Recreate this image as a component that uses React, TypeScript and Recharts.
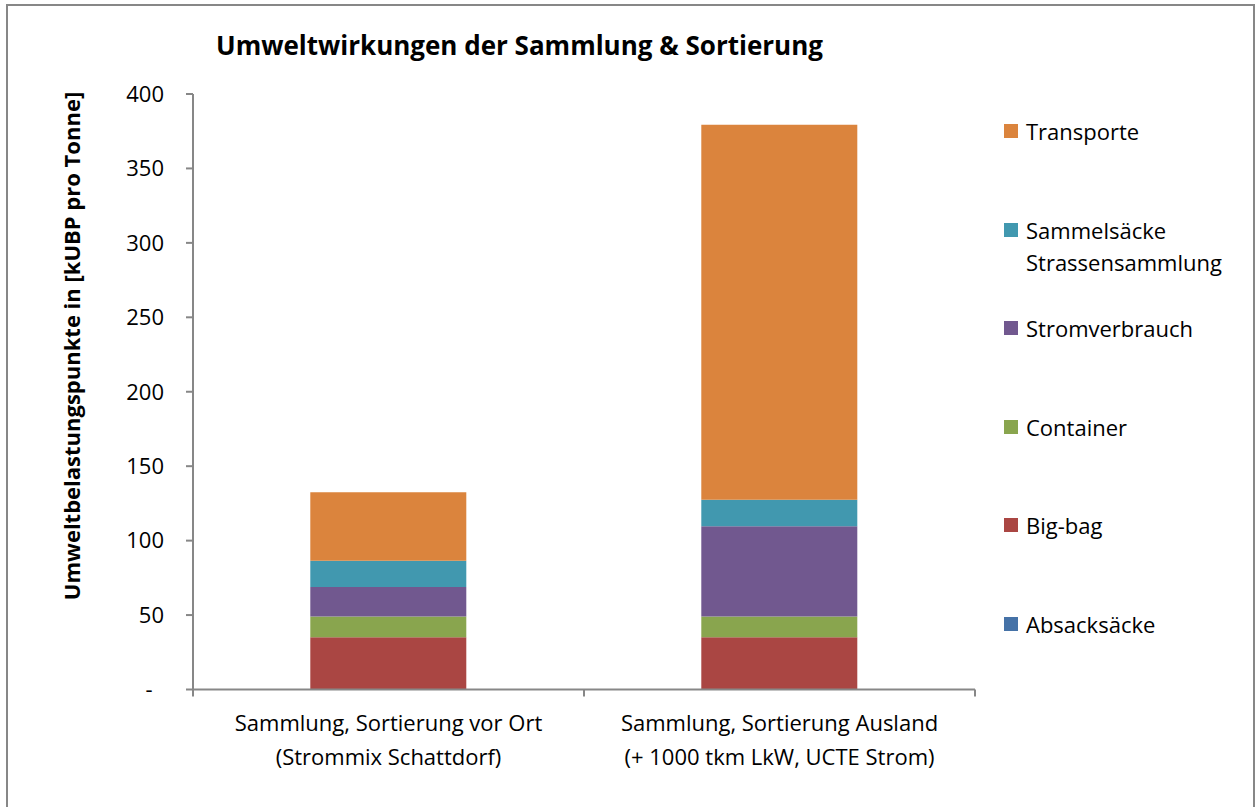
import { BarChart, Bar, XAxis, YAxis, Legend } from "recharts";

const categories = [
  "Sammlung, Sortierung vor Ort\n(Strommix Schattdorf)",
  "Sammlung, Sortierung Ausland\n(+ 1000 tkm LkW, UCTE Strom)",
];
const absacksaecke = [0.3, 0.3];
const bigBag = [34.8, 34.8];
const container = [13.9, 13.9];
const stromverbrauch = [19.9, 60.6];
const sammelsaecke = [17.5, 17.9];
const transporte = [46.1, 251.8];
const yTicks = [0, 50, 100, 150, 200, 250, 300, 350, 400];

const SERIES = [
  { key: "abs", name: "Absacksäcke", color: "#4572A7" },
  { key: "big", name: "Big-bag", color: "#AA4643" },
  { key: "cont", name: "Container", color: "#89A54E" },
  { key: "strom", name: "Stromverbrauch", color: "#71588F" },
  { key: "samm", name: "Sammelsäcke Strassensammlung", color: "#4198AF" },
  { key: "trans", name: "Transporte", color: "#DB843D" },
];

const data = categories.map((c, i) => ({
  cat: c,
  abs: absacksaecke[i],
  big: bigBag[i],
  cont: container[i],
  strom: stromverbrauch[i],
  samm: sammelsaecke[i],
  trans: transporte[i],
}));

const AXIS = "#878787";
const FONT = "'Open Sans', Lato, sans-serif";
const FS = 22;

const CatTick = (p: any) => {
  const { x, y, payload, index, width, visibleTicksCount } = p;
  const band = width / visibleTicksCount;
  const lines = String(payload.value).split("\n");
  return (
    <g>
      <line x1={x - band / 2} x2={x - band / 2} y1={y} y2={y + 7} stroke={AXIS} strokeWidth={2} />
      {index === visibleTicksCount - 1 && (
        <line x1={x + band / 2} x2={x + band / 2} y1={y} y2={y + 7} stroke={AXIS} strokeWidth={2} />
      )}
      {lines.map((l, i) => (
        <text key={i} x={x} y={y + 41 + i * 34} textAnchor="middle" fontSize={FS} fill="#000">
          {l}
        </text>
      ))}
    </g>
  );
};

const order = (name: string) => SERIES.findIndex((s) => s.name === name);

const LegendList = (props: any) => {
  const items = [...(props.payload || [])].sort((a: any, b: any) => order(b.value) - order(a.value));
  return (
    <div style={{ position: "relative", width: 245 }}>
      {items.map((it: any, i: number) => (
        <div
          key={it.value}
          style={{ position: "absolute", top: i * 98.6, left: 0, display: "flex", alignItems: "flex-start", fontSize: FS, lineHeight: "32px", color: "#000" }}
        >
          <div style={{ width: 14, height: 14, background: it.color, marginTop: 9, marginRight: 8, flex: "none" }} />
          <div style={{ width: 220 }}>{it.value}</div>
        </div>
      ))}
    </div>
  );
};

export default function App() {
  return (
    <div style={{ position: "absolute", left: 0, top: 0, width: 1255, height: 807, overflow: "hidden", background: "#fff", fontFamily: FONT }}>
      <div style={{ position: "absolute", left: 6, top: 4, width: 1249, height: 820, border: `2px solid ${AXIS}`, boxSizing: "border-box" }} />
      <div style={{ position: "absolute", left: 216, top: 27, fontSize: 26, lineHeight: "36px", fontWeight: 700, color: "#000", whiteSpace: "nowrap" }}>
        Umweltwirkungen der Sammlung &amp; Sortierung
      </div>
      <div style={{ position: "absolute", left: 0, top: 0 }}>
        <BarChart
          width={1255}
          height={807}
          data={data}
          margin={{ top: 94, right: 280, bottom: 17.5, left: 43 }}
          barCategoryGap="30%"
        >
          <XAxis
            dataKey="cat"
            interval={0}
            height={100}
            tickSize={0}
            tickMargin={0}
            tickLine={false}
            axisLine={{ stroke: AXIS, strokeWidth: 2 }}
            tick={<CatTick />}
          />
          <YAxis
            width={150}
            domain={[0, 400]}
            ticks={yTicks}
            tickSize={7}
            tickMargin={22}
            axisLine={{ stroke: AXIS, strokeWidth: 2 }}
            tickLine={{ stroke: AXIS, strokeWidth: 2 }}
            tick={{ fontSize: FS, fill: "#000" }}
            tickFormatter={(v: number) => (v === 0 ? "-\u00a0\u00a0" : String(v))}
            label={{
              content: () => (
                <text x={80} y={346} transform="rotate(-90 80 346)" textAnchor="middle" fontSize={22} fontWeight={700} fill="#000">
                  Umweltbelastungspunkte in [kUBP pro Tonne]
                </text>
              ),
            }}
          />
          <Legend
            layout="vertical"
            align="center"
            verticalAlign="middle"
            content={<LegendList />}
            wrapperStyle={{ left: 1004, top: 115, width: 245 }}
          />
          {SERIES.map((s) => (
            <Bar key={s.key} dataKey={s.key} name={s.name} stackId="a" fill={s.color} isAnimationActive={false} />
          ))}
        </BarChart>
      </div>
    </div>
  );
}
